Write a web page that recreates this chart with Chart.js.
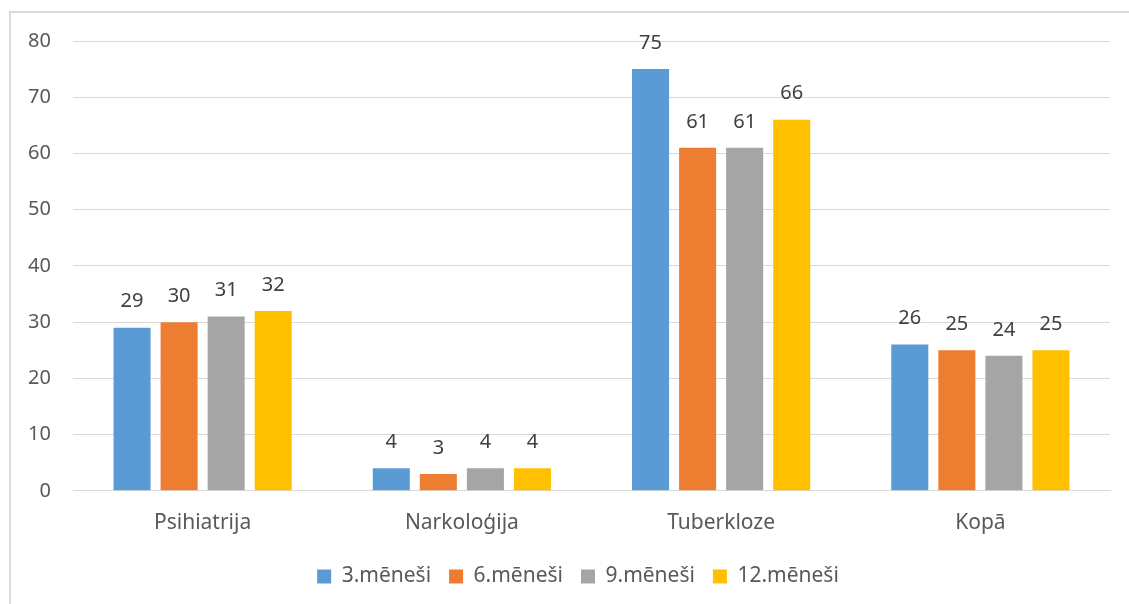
<!DOCTYPE html>
<html>
<head>
<meta charset="utf-8">
<script src="https://cdn.jsdelivr.net/npm/chart.js@4"></script>
<style>
  html, body { margin: 0; padding: 0; background: #fff; overflow: hidden; }
  #frame { position: absolute; left: 9px; top: 11px; width: 1140px; height: 620px; border: 2px solid #d9d9d9; }
  #wrap { position: absolute; left: 0; top: 0; width: 1129px; height: 604px; }
</style>
</head>
<body>
<div id="frame"></div>
<div id="wrap"><canvas id="myChart" width="1129" height="604"></canvas></div>
<script>
var categories = ['Psihiatrija', 'Narkoloģija', 'Tuberkloze', 'Kopā'];
var seriesNames = ['3.mēneši', '6.mēneši', '9.mēneši', '12.mēneši'];
var months3 = [29, 4, 75, 26];
var months6 = [30, 3, 61, 25];
var months9 = [31, 4, 61, 24];
var months12 = [32, 4, 66, 25];
var colors = ['#5B9BD5', '#ED7D31', '#A5A5A5', '#FFC000'];

var font = "'Noto Sans', sans-serif";

// value labels above each bar
var barLabels = {
  id: 'barLabels',
  afterLayout: function (chart) {
    // legend sits a bit right of the plot centre in the original
    chart.legend.left += 23;
    chart.legend.right += 23;
  },
  afterDatasetsDraw: function (chart) {
    var c = chart.ctx;
    c.save();
    c.font = '20px ' + font;
    c.fillStyle = '#404040';
    c.textAlign = 'center';
    c.textBaseline = 'middle';
    chart.data.datasets.forEach(function (ds, i) {
      chart.getDatasetMeta(i).data.forEach(function (bar, j) {
        c.fillText(ds.data[j], bar.x, bar.y - 26);
      });
    });
    c.restore();
  }
};

var ctx = document.getElementById('myChart').getContext('2d');
var myChart = new Chart(ctx, {
  type: 'bar',
  data: {
    labels: categories,
    datasets: [months3, months6, months9, months12].map(function (d, i) {
      return {
        label: seriesNames[i],
        data: d,
        backgroundColor: colors[i],
        categoryPercentage: 0.726,
        barPercentage: 0.787
      };
    })
  },
  options: {
    responsive: false,
    animation: false,
    layout: { padding: { left: 0, right: 19, top: 41, bottom: 7 } },
    plugins: {
      tooltip: { enabled: false },
      legend: {
        position: 'bottom',
        labels: {
          color: '#595959',
          font: { family: font, size: 21 },
          boxWidth: 14,
          boxHeight: 14,
          padding: 18
        }
      }
    },
    scales: {
      x: {
        grid: { display: false },
        border: { color: '#d9d9d9', width: 1 },
        ticks: { color: '#595959', font: { family: font, size: 21 }, padding: 12 }
      },
      y: {
        min: 0,
        max: 80,
        ticks: { stepSize: 10, color: '#595959', font: { family: font, size: 20 }, padding: 22 },
        grid: { color: '#d9d9d9', drawTicks: false },
        border: { display: false },
        afterFit: function (scale) { scale.width = 73; }
      }
    }
  },
  plugins: [barLabels]
});
</script>
</body>
</html>
